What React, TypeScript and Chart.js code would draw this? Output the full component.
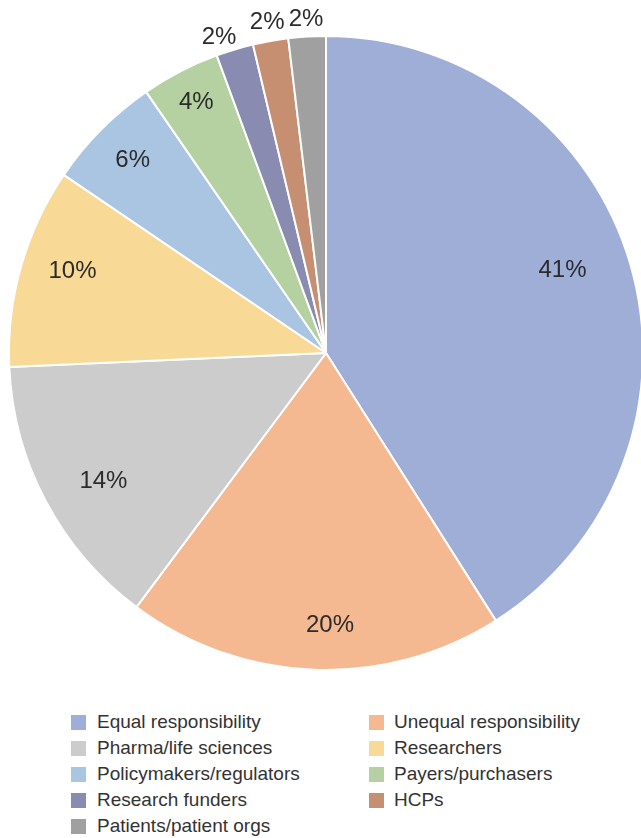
import React, { useEffect, useRef } from "react";
import { Chart, registerables } from "chart.js";

Chart.register(...registerables);

const categories = [
  "Equal responsibility",
  "Unequal responsibility",
  "Pharma/life sciences",
  "Researchers",
  "Policymakers/regulators",
  "Payers/purchasers",
  "Research funders",
  "HCPs",
  "Patients/patient orgs",
];
const values = [41.0, 19.2, 14.1, 10.2, 5.9, 4.0, 1.9, 1.8, 1.9];
const valueLabels = ["41%", "20%", "14%", "10%", "6%", "4%", "2%", "2%", "2%"];
const colors = [
  "#9eaed6",
  "#f4b991",
  "#cccccc",
  "#f8d996",
  "#aac5e2",
  "#b5d1a1",
  "#898bb0",
  "#c68f72",
  "#a0a0a0",
];
// label placement styling (fraction of radius, angle tweak in degrees)
const labelRadius = [0.79, 0.86, 0.81, 0.84, 0.86, 0.89, 1.05, 1.06, 1.055];
const labelAngleTweak = [-3, -3, -2, 2, 0, 0, -2, 0, 0];

const FONT = '"Liberation Sans", Arial, Helvetica, sans-serif';

const labelPlugin = {
  id: "sliceLabels",
  afterDatasetsDraw(chart: any) {
    const ctx = chart.ctx;
    const meta = chart.getDatasetMeta(0);
    ctx.save();
    ctx.font = `24px ${FONT}`;
    ctx.fillStyle = "#2b2b2b";
    ctx.textAlign = "center";
    ctx.textBaseline = "middle";
    meta.data.forEach((arc: any, i: number) => {
      const p = arc.getProps(["x", "y", "startAngle", "endAngle", "outerRadius"], true);
      const mid = (p.startAngle + p.endAngle) / 2 + (labelAngleTweak[i] * Math.PI) / 180;
      const r = p.outerRadius * labelRadius[i];
      const x = p.x + Math.cos(mid) * r;
      const y = p.y + Math.sin(mid) * r;
      ctx.fillText(valueLabels[i], x, y);
    });
    ctx.restore();
  },
};

export default function App() {
  const ref = useRef<HTMLCanvasElement>(null);
  useEffect(() => {
    document.body.style.margin = "0";
    const chart = new Chart(ref.current!, {
      type: "pie",
      data: {
        labels: categories,
        datasets: [
          {
            data: values,
            backgroundColor: colors,
            borderColor: "#ffffff",
            borderWidth: 2,
            radius: 317,
          } as any,
        ],
      },
      options: {
        animation: false,
        responsive: false,
        devicePixelRatio: 1,
        layout: { padding: 0 },
        plugins: {
          legend: { display: false },
          tooltip: { enabled: false },
        },
      },
      plugins: [labelPlugin],
    });
    return () => chart.destroy();
  }, []);

  const rows: number[] = [];
  for (let i = 0; i < categories.length; i += 2) rows.push(i);

  return (
    <div
      style={{
        position: "relative",
        width: 641,
        height: 838,
        overflow: "hidden",
        background: "#fff",
      }}
    >
      <canvas
        ref={ref}
        width={652}
        height={706}
        style={{ position: "absolute", left: 0, top: 0, width: 652, height: 706 }}
      />
      {categories.map((c, i) => {
        const col = i % 2;
        const row = Math.floor(i / 2);
        return (
          <div
            key={c}
            style={{
              position: "absolute",
              left: col === 0 ? 71 : 369,
              top: 709 + row * 26,
              height: 26,
              display: "flex",
              alignItems: "center",
              fontFamily: FONT,
              fontSize: 19,
              color: "#333333",
              whiteSpace: "nowrap",
            }}
          >
            <span
              style={{
                display: "inline-block",
                width: 15,
                height: 15,
                background: colors[i],
                marginRight: col === 0 ? 11 : 10,
              }}
            />
            <span>{c}</span>
          </div>
        );
      })}
    </div>
  );
}
